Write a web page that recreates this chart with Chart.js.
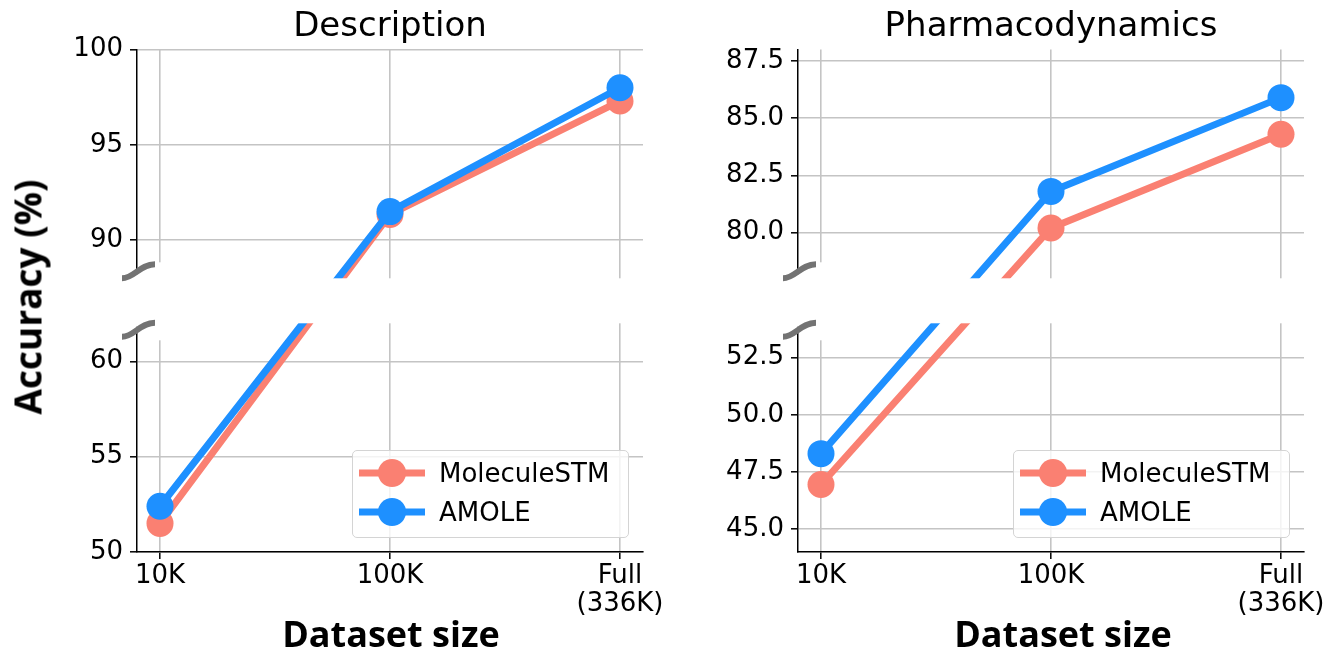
<!DOCTYPE html>
<html>
<head>
<meta charset="utf-8">
<script src="https://cdn.jsdelivr.net/npm/chart.js@4.4.1/dist/chart.umd.min.js"></script>
<style>
html,body{margin:0;padding:0;background:#fff;}
#root{position:relative;width:1328px;height:662px;overflow:hidden;background:#fff;font-family:"DejaVu Sans",sans-serif;color:#000;}
canvas.sub{position:absolute;}
.title{position:absolute;font-family:"DejaVu Sans",sans-serif;font-size:34px;line-height:34px;white-space:nowrap;transform:translateX(-50%);}
.xlab{position:absolute;font-family:"Open Sans",sans-serif;font-weight:700;font-size:36px;line-height:36px;white-space:nowrap;transform:translateX(-50%);}
.ylab{position:absolute;font-family:"Open Sans",sans-serif;font-weight:700;font-size:37px;line-height:37px;white-space:nowrap;transform:translate(-50%,-50%) rotate(-90deg);}
.legend{position:absolute;width:277px;height:88px;border:1.5px solid #d4d4d4;border-radius:5px;background:rgba(255,255,255,0.8);box-sizing:border-box;}
.legend .sym{position:absolute;left:6px;}
.legend .txt{position:absolute;left:86px;font-family:"DejaVu Sans",sans-serif;font-size:26px;line-height:30px;white-space:nowrap;}
</style>
</head>
<body>
<div id="root"></div>
<script>
// ---------------- data ----------------
const categories = ["10K", "100K", "Full (336K)"];
const xTickLabels = ["10K", "100K", ["Full", "(336K)"]];
const seriesNames = ["MoleculeSTM", "AMOLE"];
const seriesColors = ["#FA8072", "#1E90FF"];
const descMoleculeSTM = [51.5, 91.35, 97.3];
const descAMOLE = [52.4, 91.5, 98.0];
const pharmMoleculeSTM = [46.95, 80.2, 84.3];
const pharmAMOLE = [48.3, 81.8, 85.9];
const descTicks = [50, 55, 60, 90, 95, 100];
const pharmTicks = [45, 47.5, 50, 52.5, 80, 82.5, 85, 87.5];
const descRanges = [50, 62, 88, 100];   // lower min, lower max, upper min, upper max
const pharmRanges = [44, 54, 78, 88];
const titles = ["Description", "Pharmacodynamics"];
const yLabel = "Accuracy (%)";
const xLabel = "Dataset size";

// ---------------- broken y scale ----------------
class BrokenLinearScale extends Chart.LinearScale {
  _brk() { return this.options.brk; }
  getPixelForValue(value) {
    const b = this._brk();
    const partH = (this.bottom - this.top - b.gap) / 2;
    const [l0, l1, h0, h1] = b.ranges;
    if (value <= (l1 + h0) / 2) {
      return this.bottom - (value - l0) / (l1 - l0) * partH;
    }
    return this.top + (h1 - value) / (h1 - h0) * partH;
  }
  getValueForPixel(pixel) {
    const b = this._brk();
    const partH = (this.bottom - this.top - b.gap) / 2;
    const [l0, l1, h0, h1] = b.ranges;
    if (pixel >= this.top + partH + b.gap / 2) {
      return l0 + (this.bottom - pixel) / partH * (l1 - l0);
    }
    return h1 - (pixel - this.top) / partH * (h1 - h0);
  }
}
BrokenLinearScale.id = 'brokenLinear';
BrokenLinearScale.defaults = {};
Chart.register(BrokenLinearScale);

// ---------------- layout ----------------
const root = document.getElementById('root');
const YW = 100, PT = 20, PR = 50, XH = 80;
const AREA_W = 506;
const AREA_T = 47, AREA_H = 505, GAP = 45;
const GRID = '#c4c4c4';

const panels = [
  {areaL: 137, titleX: 390, xlabX: 391, series: [descMoleculeSTM, descAMOLE],
   ranges: descRanges, ticks: descTicks, dec: 0, title: titles[0]},
  {areaL: 798, titleX: 1051, xlabX: 1063, series: [pharmMoleculeSTM, pharmAMOLE],
   ranges: pharmRanges, ticks: pharmTicks, dec: 1, title: titles[1]}
];

function drawBreakMark(ctx, sx, cy) {
  ctx.strokeStyle = '#737373';
  ctx.lineWidth = 6;
  ctx.lineCap = 'butt';
  ctx.beginPath();
  ctx.moveTo(sx - 15, cy + 7);
  ctx.bezierCurveTo(sx - 3, cy + 7, sx + 3, cy - 7, sx + 18, cy - 7);
  ctx.stroke();
}

const gapPlugin = {
  id: 'gapCover',
  afterDatasetsDraw(chart) {
    const ctx = chart.ctx, a = chart.chartArea;
    const partH = (a.bottom - a.top - GAP) / 2;
    const g0 = a.top + partH, g1 = g0 + GAP;
    const sx = a.left;
    ctx.save();
    ctx.fillStyle = '#fff';
    ctx.fillRect(sx - 20, g0, a.right - sx + 24, GAP);
    // hide spine/grid next to the break marks
    const cyTop = g0 - 7, cyBot = g1 + 6.5;
    ctx.fillRect(sx - 4, cyTop + 3, 8, g0 - cyTop);
    ctx.fillRect(sx + 10, cyTop - 9, 16, g0 - cyTop + 10);
    ctx.fillRect(sx - 4, g1 - 1, 8, cyBot - g1 - 2);
    ctx.fillRect(sx + 10, g1 - 1, 16, 18);
    drawBreakMark(ctx, sx, cyTop);
    drawBreakMark(ctx, sx, cyBot);
    ctx.restore();
  }
};

function makePanel(panel) {
  const cv = document.createElement('canvas');
  cv.className = 'sub';
  const w = YW + AREA_W + PR;
  const h = PT + AREA_H + XH;
  cv.width = w; cv.height = h;
  cv.style.width = w + 'px'; cv.style.height = h + 'px';
  cv.style.left = (panel.areaL - YW) + 'px';
  cv.style.top = (AREA_T - PT) + 'px';
  root.appendChild(cv);

  const datasets = seriesNames.map((name, si) => ({
    label: name,
    data: panel.series[si].map((v, i) => ({x: i, y: v})),
    borderColor: seriesColors[si],
    backgroundColor: seriesColors[si],
    borderWidth: 7,
    pointRadius: 13.5,
    pointBorderWidth: 0,
    pointHoverRadius: 13.5,
    tension: 0,
    clip: 0,
    order: si === 1 ? 0 : 1
  }));

  const tickFont = {family: 'DejaVu Sans', size: 26, lineHeight: 1.08};
  new Chart(cv, {
    type: 'line',
    data: {datasets},
    plugins: [gapPlugin],
    options: {
      responsive: false,
      animation: false,
      devicePixelRatio: 1,
      events: [],
      layout: {padding: {top: PT, right: PR, bottom: 0, left: 0}},
      plugins: {legend: {display: false}, tooltip: {enabled: false}},
      scales: {
        x: {
          type: 'linear', min: -0.1, max: 2.1,
          afterBuildTicks: s => { s.ticks = [0, 1, 2].map(v => ({value: v})); },
          afterFit: s => { s.height = XH; },
          grid: {color: GRID, lineWidth: 1.6, drawTicks: true, tickLength: 7, tickColor: '#000', tickWidth: 1.5},
          border: {display: true, color: '#000', width: 1.5},
          ticks: {padding: 3, color: '#000', font: tickFont, maxRotation: 0, autoSkip: false,
                  callback: (v) => xTickLabels[Math.round(v)]}
        },
        y: {
          type: 'brokenLinear', min: panel.ranges[0], max: panel.ranges[3],
          brk: {ranges: panel.ranges, gap: GAP},
          afterBuildTicks: s => { s.ticks = panel.ticks.map(v => ({value: v})); },
          afterFit: s => { s.width = YW; },
          grid: {color: GRID, lineWidth: 1.6, drawTicks: true, tickLength: 7, tickColor: '#000', tickWidth: 1.5},
          border: {display: true, color: '#000', width: 1.5},
          ticks: {padding: 7, color: '#000', font: {family: 'DejaVu Sans', size: 26}, autoSkip: false,
                  callback: (v) => Number(v).toFixed(panel.dec)}
        }
      }
    }
  });
}

function legendSymbol(color) {
  const c = document.createElement('canvas');
  c.width = 66; c.height = 32; c.className = 'sym';
  const g = c.getContext('2d');
  g.strokeStyle = color; g.lineWidth = 7;
  g.beginPath(); g.moveTo(0, 16); g.lineTo(66, 16); g.stroke();
  g.fillStyle = color;
  g.beginPath(); g.arc(33, 16, 14, 0, Math.PI * 2); g.fill();
  return c;
}

panels.forEach(p => {
  makePanel(p);

  const t = document.createElement('div');
  t.className = 'title'; t.textContent = p.title;
  t.style.left = p.titleX + 'px'; t.style.top = '7px';
  root.appendChild(t);

  const xl = document.createElement('div');
  xl.className = 'xlab'; xl.textContent = xLabel;
  xl.style.left = p.xlabX + 'px'; xl.style.top = '616px';
  root.appendChild(xl);

  const lg = document.createElement('div');
  lg.className = 'legend';
  lg.style.left = (p.areaL + 215) + 'px';
  lg.style.top = '450px';
  const rows = [22, 61];
  seriesNames.forEach((name, si) => {
    const s = legendSymbol(seriesColors[si]);
    s.style.top = (rows[si] - 16) + 'px';
    lg.appendChild(s);
    const tx = document.createElement('div');
    tx.className = 'txt'; tx.textContent = name;
    tx.style.top = (rows[si] - 15) + 'px';
    lg.appendChild(tx);
  });
  root.appendChild(lg);
});

const yl = document.createElement('div');
yl.className = 'ylab'; yl.textContent = yLabel;
yl.style.left = '27px'; yl.style.top = '297px';
root.appendChild(yl);
</script>
</body>
</html>
